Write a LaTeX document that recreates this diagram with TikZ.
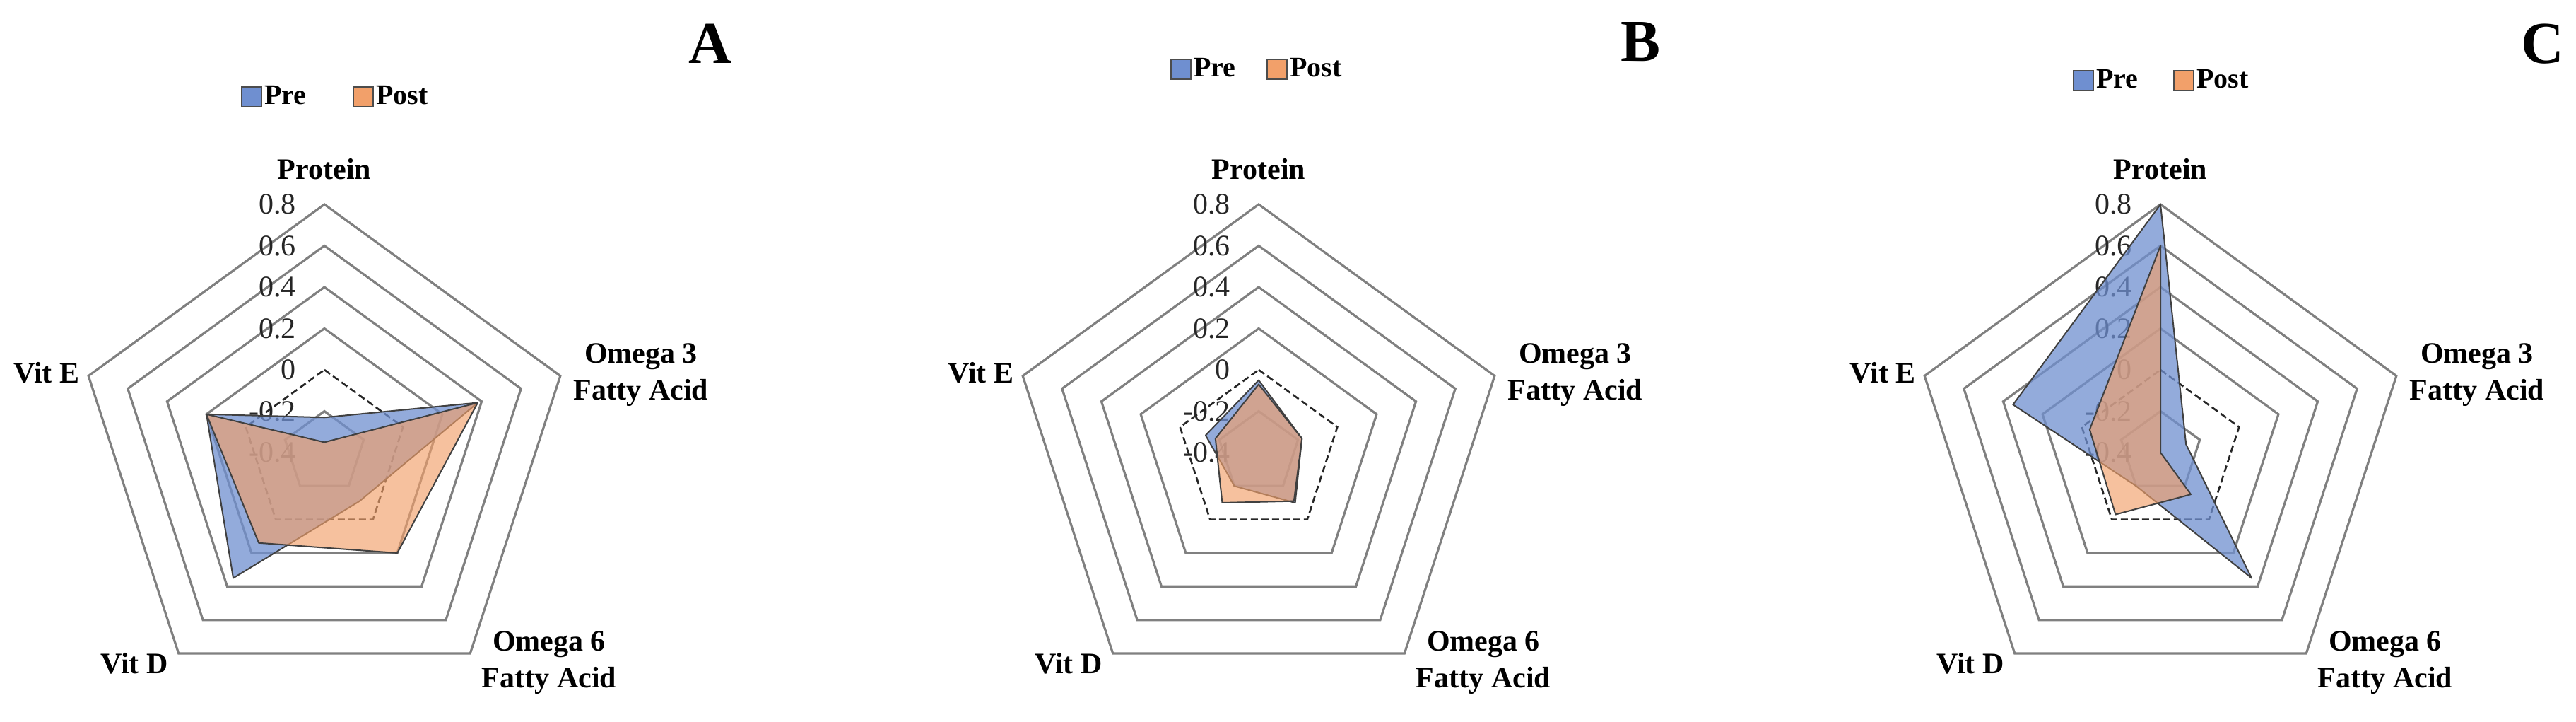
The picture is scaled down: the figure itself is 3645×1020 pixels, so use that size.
\documentclass[tikz,border=0pt]{standalone}
\usepackage{fontspec}
\setmainfont{Liberation Serif}
\definecolor{preC}{HTML}{6F8FD0}
\definecolor{postC}{HTML}{F2A06A}
\definecolor{ringC}{HTML}{808080}
\newcommand\RP[3]{({#1+(#3+0.4)*292.5*cos(#2)},{640-(#3+0.4)*292.5*sin(#2)})}
\newcommand\Pent[7]{\draw[#7] \RP{#1}{90}{#2} -- \RP{#1}{18}{#3} -- \RP{#1}{-54}{#4} -- \RP{#1}{-126}{#5} -- \RP{#1}{162}{#6} -- cycle;}
\newcommand\Chart[4]{%
  \foreach \v in {-0.2,0.2,0.4,0.6,0.8} {\Pent{#1}{\v}{\v}{\v}{\v}{\v}{ringline}}
  \Pent{#1}{0}{0}{0}{0}{0}{dashline}
  \foreach \v/\t in {0.8/0.8,0.6/0.6,0.4/0.4,0.2/0.2,0/0,-0.2/-0.2,-0.4/-0.4}
    {\node[tick,anchor=east] (t#4\t) at ({#1-40},{640-(\v+0.4)*292.5}) {\t};}
  \node[axl] (p#4) at ({#1},{239}) {Protein};
  \node[axl,align=center] (o3#4) at ({#1+448},{530}) {Omega 3\\Fatty Acid};
  \node[axl,align=center] (o6#4) at ({#1+318},{937}) {Omega 6\\Fatty Acid};
  \node[axl] (d#4) at ({#1-269},{938}) {Vit D};
  \node[axl] (e#4) at ({#1-393},{527}) {Vit E};
}
\begin{document}
\begin{tikzpicture}[x=1pt,y=-1pt,
  ringline/.style={draw=ringC,line width=3.2pt,line join=miter},
  dashline/.style={draw=black!85,line width=2.6pt,dash pattern=on 10pt off 5pt},
  prepoly/.style={fill=preC,fill opacity=0.75,draw=black!75,line width=2pt,line join=round},
  postpoly/.style={fill=postC,fill opacity=0.65,draw=black!75,line width=2pt,line join=round},
  tick/.style={font=\fontsize{42}{44}\selectfont,inner sep=0pt,text=black!85},
  axl/.style={font=\fontsize{42}{52}\selectfont\bfseries,inner sep=0pt},
  leg/.style={font=\fontsize{40}{44}\selectfont\bfseries,inner sep=0pt,anchor=west},
  sq/.style={line width=2.4pt,draw=black!70,minimum width=28pt,minimum height=28pt,inner sep=0pt},
  panel/.style={font=\fontsize{84}{84}\selectfont\bfseries,inner sep=0pt}]
\useasboundingbox[fill=white] (0,0) rectangle (3645,1020);
% A
\Chart{459}{}{}{A}
\Pent{459}{-0.23}{0.38}{-0.11}{0.35}{0.2}{prepoly}
\Pent{459}{-0.35}{0.38}{0.2}{0.14}{0.2}{postpoly}
% B
\Chart{1781}{}{}{B}
\Pent{1781}{-0.05}{-0.18}{-0.1}{-0.2}{-0.13}{prepoly}
\Pent{1781}{-0.07}{-0.18}{-0.11}{-0.1}{-0.18}{postpoly}
% C
\Chart{3057}{}{}{C}
\Pent{3057}{0.8}{-0.27}{0.35}{-0.2}{0.35}{prepoly}
\Pent{3057}{0.6}{-0.4}{-0.15}{-0.03}{-0.04}{postpoly}
% legends
\node[sq,fill=preC] (lpA) at (356,137) {};
\node[leg] (lptA) at (374,135) {Pre};
\node[sq,fill=postC] (loA) at (514,137) {};
\node[leg] (lotA) at (532,135) {Post};
\node[sq,fill=preC] (lpC0) at (1671,98) {};
\node[leg] (lptB) at (1689,96) {Pre};
\node[sq,fill=postC] (loB) at (1807,98) {};
\node[leg] (lotB) at (1825,96) {Post};
\node[sq,fill=preC] (lpC) at (2948,114) {};
\node[leg] (lptC) at (2966,112) {Pre};
\node[sq,fill=postC] (loC) at (3090,114) {};
\node[leg] (lotC) at (3108,112) {Post};
% panel letters
\node[panel] (A) at (1005,62) {A};
\node[panel] (B) at (2321,59) {B};
\node[panel] (C) at (3598,62) {C};
\end{tikzpicture}
\end{document}
